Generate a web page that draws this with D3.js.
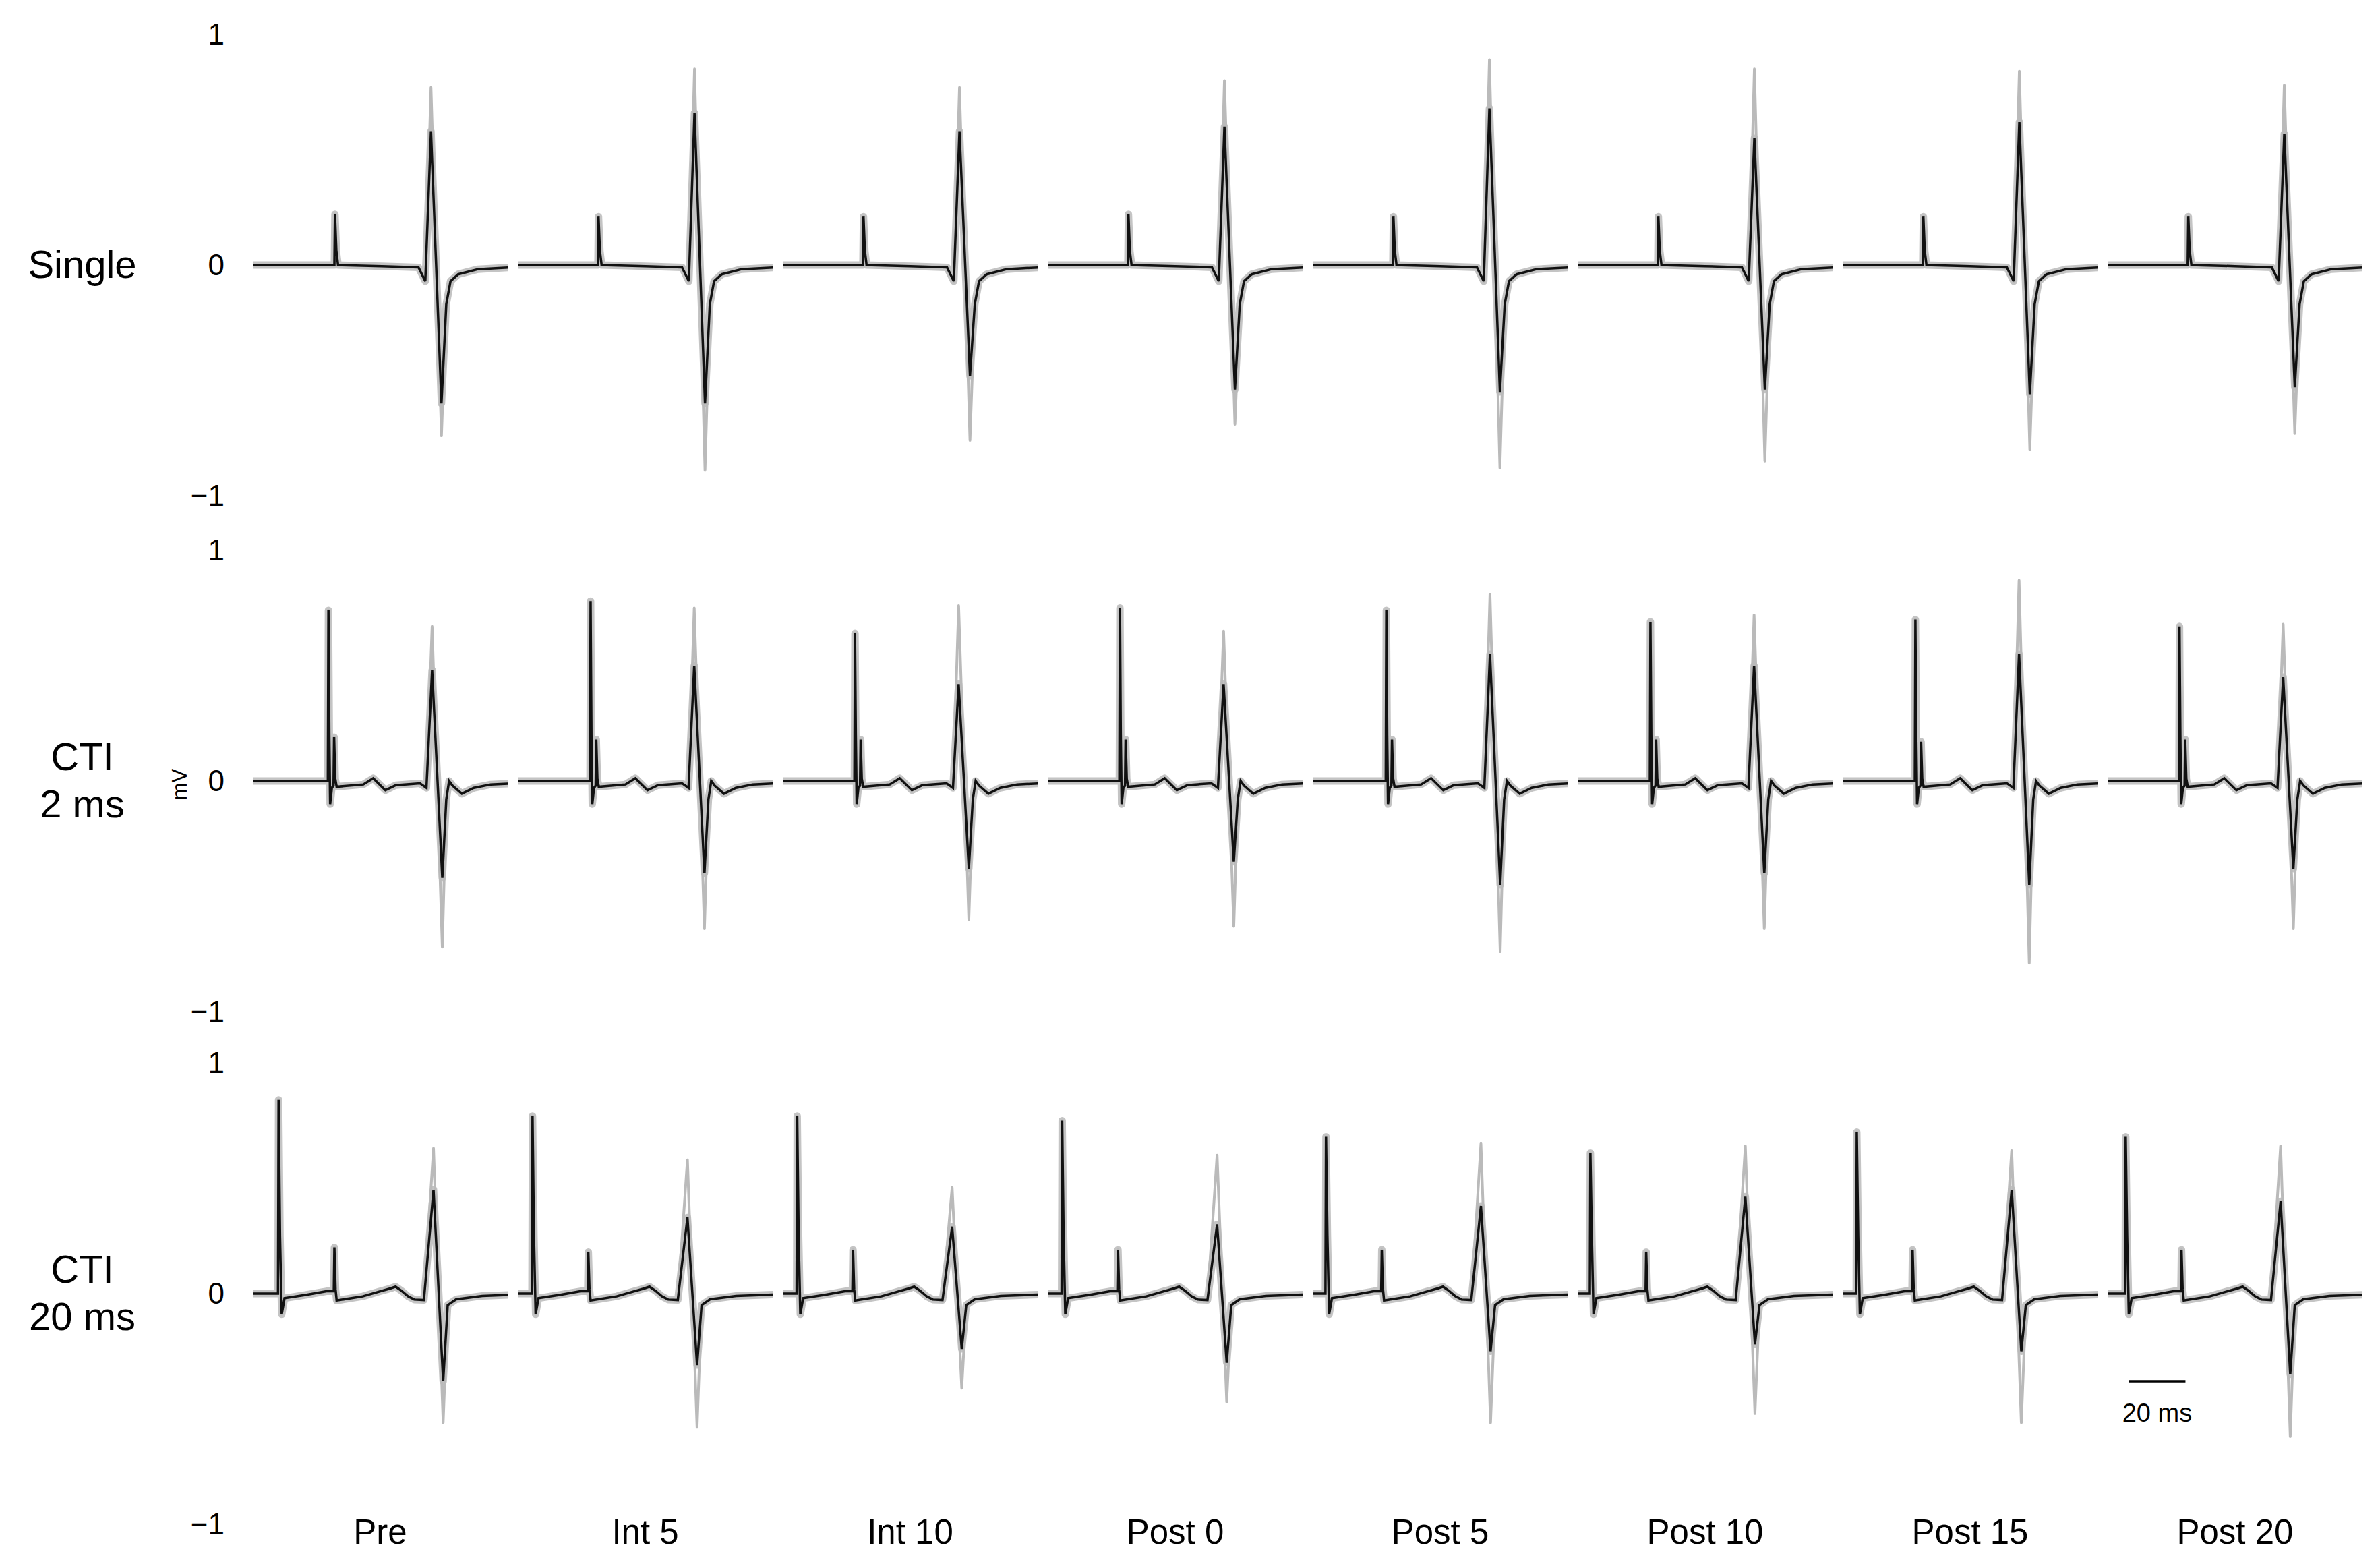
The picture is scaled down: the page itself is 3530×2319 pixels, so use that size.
<!DOCTYPE html>
<html>
<head>
<meta charset="utf-8">
<script src="https://cdn.jsdelivr.net/npm/d3@7"></script>
<style>
  body { margin: 0; background: #fff; }
  text { font-family: "Liberation Sans", Arial, sans-serif; fill: #000; }
</style>
</head>
<body>
<svg id="chart" width="3530" height="2319"></svg>
<script>
const conditions = ["Pre", "Int 5", "Int 10", "Post 0", "Post 5", "Post 10", "Post 15", "Post 20"];
const protocolLabels = [["Single"], ["CTI", "2 ms"], ["CTI", "20 ms"]];
const mvTicks = [-1, 0, 1];

// beat shapes: [ms inside the 90 ms window, mV]; keys are filled per segment
const singleShape = [[-10, 0], [28.3, 0], [28.5, "stim"], [29.0, 0.06], [29.6, 0], [45, -0.005], [58, -0.01],
  [60.4, -0.07], [62.4, "up"], [66.1, "down"], [67.8, -0.17], [69.3, -0.07], [72, -0.04], [79, -0.018], [100, -0.004]];
const cti2Shape = [[-10, 0], [25.5, 0], [25.7, "stim"], [26.0, 0.2], [26.3, -0.1], [26.9, -0.03], [27.5, -0.02],
  [27.7, "stim2"], [28.1, 0.01], [28.6, -0.025], [38, -0.015], [41.5, 0.012], [45.8, -0.04], [49.5, -0.018],
  [58, -0.01], [60.3, -0.03], [62.3, "up"], [65.9, "down"], [67.3, -0.08], [68.3, 0.0], [69.5, -0.02],
  [72.8, -0.055], [77, -0.03], [83, -0.015], [100, -0.005]];
const cti20Shape = [[-10, 0], [4.9, 0], [5.1, "stim"], [5.6, 0.25], [6.2, -0.09], [7.2, -0.02], [15, -0.005],
  [22, 0.01], [24.6, 0.01], [24.8, "stim2"], [25.2, 0.02], [25.6, -0.03], [34.8, -0.012], [41, 0.01],
  [44.5, 0.022], [46.4, 0.03], [48.5, 0.012], [50.8, -0.012], [53, -0.026], [56.4, -0.028], [59.8, "up"],
  [63.2, "down"], [64.8, -0.05], [67.8, -0.025], [77, -0.01], [100, 0]];

// Single
const singleStim     = [0.22, 0.21, 0.21, 0.22, 0.21, 0.21, 0.21, 0.21];
const singleUpAll    = [0.77, 0.85, 0.77, 0.80, 0.89, 0.85, 0.84, 0.78];
const singleDownAll  = [-0.74, -0.89, -0.76, -0.69, -0.88, -0.85, -0.80, -0.73];
const singleUpMean   = [0.58, 0.66, 0.58, 0.60, 0.68, 0.55, 0.62, 0.57];
const singleDownMean = [-0.60, -0.60, -0.48, -0.54, -0.55, -0.54, -0.56, -0.53];
const singleShift    = [0.5, 0, 0, 0, 0, 0, 0, 0];

// CTI 2 ms
const cti2Stim     = [0.74, 0.78, 0.64, 0.75, 0.74, 0.69, 0.70, 0.67];
const cti2Stim2    = [0.19, 0.18, 0.18, 0.18, 0.18, 0.18, 0.17, 0.18];
const cti2UpAll    = [0.67, 0.75, 0.76, 0.65, 0.81, 0.72, 0.87, 0.68];
const cti2DownAll  = [-0.72, -0.64, -0.60, -0.63, -0.74, -0.64, -0.79, -0.64];
const cti2UpMean   = [0.48, 0.50, 0.42, 0.42, 0.55, 0.50, 0.55, 0.45];
const cti2DownMean = [-0.42, -0.40, -0.38, -0.35, -0.45, -0.40, -0.45, -0.38];
const cti2Shift    = [1.0, 0, -0.2, -0.2, 0.3, 0, 0, -0.3];

// CTI 20 ms
const cti20Stim     = [0.84, 0.77, 0.77, 0.75, 0.68, 0.61, 0.70, 0.68];
const cti20Stim2    = [0.20, 0.18, 0.19, 0.19, 0.19, 0.18, 0.19, 0.19];
const cti20UpAll    = [0.63, 0.58, 0.46, 0.60, 0.65, 0.64, 0.62, 0.64];
const cti20DownAll  = [-0.56, -0.58, -0.41, -0.47, -0.56, -0.52, -0.56, -0.62];
const cti20UpMean   = [0.45, 0.33, 0.29, 0.30, 0.38, 0.42, 0.45, 0.40];
const cti20DownMean = [-0.38, -0.31, -0.24, -0.30, -0.25, -0.22, -0.25, -0.35];
const cti20Shift    = [4.0, 0.1, 0, 0, -0.4, -0.6, -0.1, 1.3];

const rows = [
  {shape: singleShape, stim: singleStim, stim2: null, upAll: singleUpAll, downAll: singleDownAll,
   upMean: singleUpMean, downMean: singleDownMean, shift: singleShift},
  {shape: cti2Shape, stim: cti2Stim, stim2: cti2Stim2, upAll: cti2UpAll, downAll: cti2DownAll,
   upMean: cti2UpMean, downMean: cti2DownMean, shift: cti2Shift},
  {shape: cti20Shape, stim: cti20Stim, stim2: cti20Stim2, upAll: cti20UpAll, downAll: cti20DownAll,
   upMean: cti20UpMean, downMean: cti20DownMean, shift: cti20Shift}
];

const svg = d3.select("#chart");
const rowZero = [393, 1158, 1918];
const mvPx = 342;

const xBand = d3.scaleBand()
  .domain(conditions)
  .range([375, 3504])
  .paddingInner(0.038)
  .paddingOuter(0);

const tScale = d3.scaleLinear()
  .domain([0, 90])
  .range([0, xBand.bandwidth()]);

const yFor = (r) => d3.scaleLinear()
  .domain([-1, 1])
  .range([rowZero[r] + mvPx, rowZero[r] - mvPx]);

function tracePoints(row, i, which) {
  return row.shape.map(([t, v]) => {
    let val = v;
    if (v === "stim") val = row.stim[i];
    else if (v === "stim2") val = row.stim2[i];
    else if (v === "up") val = which === "all" ? row.upAll[i] : row.upMean[i];
    else if (v === "down") val = which === "all" ? row.downAll[i] : row.downMean[i];
    return [t + row.shift[i], val];
  });
}

const defs = svg.append("defs");
conditions.forEach((c, i) => {
  defs.append("clipPath")
    .attr("id", "seg" + i)
    .append("rect")
    .attr("x", xBand(c))
    .attr("y", 0)
    .attr("width", xBand.bandwidth())
    .attr("height", 2319);
});

rows.forEach((row, r) => {
  const y = yFor(r);
  const g = svg.append("g").attr("class", "row");

  // tick labels
  g.append("g")
    .attr("transform", "translate(333,0)")
    .call(d3.axisLeft(y).tickValues(mvTicks).tickFormat(d3.format("d")).tickSize(0).tickPadding(0))
    .call(a => a.select(".domain").remove())
    .selectAll("text")
    .attr("font-size", 44)
    .attr("font-family", "Liberation Sans, Arial, sans-serif");

  // protocol label
  const lines = protocolLabels[r];
  const lab = g.append("text")
    .attr("text-anchor", "middle")
    .attr("font-size", 58);
  if (lines.length === 1) {
    lab.append("tspan").attr("x", 122).attr("y", rowZero[r] + 19).text(lines[0]);
  } else {
    lab.append("tspan").attr("x", 122).attr("y", rowZero[r] - 16).text(lines[0]);
    lab.append("tspan").attr("x", 122).attr("y", rowZero[r] + 54).text(lines[1]);
  }

  conditions.forEach((c, i) => {
    const x0 = xBand(c);
    const line = d3.line()
      .x(d => x0 + tScale(d[0]))
      .y(d => y(d[1]));
    const seg = g.append("g").attr("clip-path", `url(#seg${i})`);
    const meanPts = tracePoints(row, i, "mean");
    const allPts = tracePoints(row, i, "all");

    // spread of the individual beats
    seg.append("path")
      .attr("d", line(meanPts))
      .attr("fill", "none")
      .attr("stroke", "#c4c4c4")
      .attr("stroke-width", 11)
      .attr("stroke-linejoin", "round");
    seg.append("path")
      .attr("d", line(allPts))
      .attr("fill", "none")
      .attr("stroke", "#bababa")
      .attr("stroke-width", 4)
      .attr("stroke-linejoin", "round");
    // average beat
    seg.append("path")
      .attr("d", line(meanPts))
      .attr("fill", "none")
      .attr("stroke", "#111")
      .attr("stroke-width", 3.5);
  });
});

// condition labels
svg.append("g")
  .selectAll("text")
  .data(conditions)
  .join("text")
  .attr("x", d => xBand(d) + xBand.bandwidth() / 2)
  .attr("y", 2289)
  .attr("text-anchor", "middle")
  .attr("font-size", 51)
  .text(d => d);

// y unit
svg.append("text")
  .attr("transform", `translate(277,${rowZero[1] + 5}) rotate(-90)`)
  .attr("text-anchor", "middle")
  .attr("font-size", 31)
  .text("mV");

// 20 ms scale bar
const y3 = yFor(2);
const barX = xBand("Post 20") + tScale(7.5);
svg.append("line")
  .attr("x1", barX)
  .attr("x2", barX + tScale(20))
  .attr("y1", y3(-0.38))
  .attr("y2", y3(-0.38))
  .attr("stroke", "#000")
  .attr("stroke-width", 3.5);
svg.append("text")
  .attr("x", barX + tScale(10))
  .attr("y", 2108)
  .attr("text-anchor", "middle")
  .attr("font-size", 38)
  .text("20 ms");
</script>
</body>
</html>
